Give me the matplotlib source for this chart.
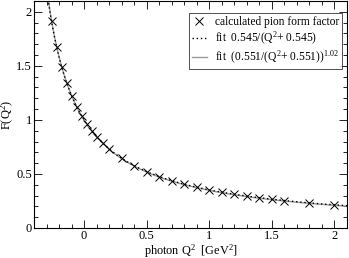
import matplotlib
matplotlib.use("Agg")
import matplotlib.pyplot as plt
import numpy as np
from matplotlib.ticker import MultipleLocator, FormatStrFormatter

plt.rcParams["font.family"] = ["Liberation Serif", "DejaVu Serif"]
plt.rcParams["mathtext.fontset"] = "custom"
plt.rcParams["mathtext.rm"] = "Liberation Serif"
plt.rcParams["mathtext.it"] = "Liberation Serif:italic"

# calculated pion form factor points
q2 = [-0.26, -0.22, -0.18, -0.14, -0.10, -0.06, -0.02, 0.02, 0.06, 0.10,
      0.15, 0.2, 0.3, 0.4, 0.5, 0.6, 0.7, 0.8, 0.9, 1.0, 1.1, 1.2, 1.3,
      1.4, 1.5, 1.6, 1.8, 2.0]
form_factor = [1.912, 1.677, 1.493, 1.346, 1.225, 1.124, 1.038, 0.965, 0.901,
               0.845, 0.784, 0.732, 0.645, 0.577, 0.522, 0.476, 0.438, 0.405,
               0.377, 0.353, 0.331, 0.312, 0.295, 0.280, 0.267, 0.254, 0.232,
               0.214]

# fit parameters from the legend
mono_m2 = 0.545
pow_m2 = 0.551
pow_n = 1.02

fig = plt.figure(figsize=(3.49, 2.58), dpi=100)
ax = fig.add_axes([34 / 349, 30 / 258, 313 / 349, 227 / 258])

x = np.linspace(-0.3, 2.1, 400)
ax.plot(x, (pow_m2 / (x + pow_m2)) ** pow_n, color="#999999", lw=1.0,
        label=r"fit  (0.551/(Q$^2$+ 0.551))$^{1.02}$", zorder=2)
ax.plot(x, mono_m2 / (x + mono_m2), color="black", lw=1.0, ls=(0, (1, 2)),
        label=r"fit  0.545/(Q$^2$+ 0.545)", zorder=3)
ax.plot(q2, form_factor, ls="none", marker="x", ms=5.5, mew=0.7, color="black",
        label="calculated pion form factor", zorder=4)

ax.set_xlim(-0.4, 2.1)
ax.set_ylim(0, 2.1)
for axis in (ax.xaxis, ax.yaxis):
    axis.set_major_locator(MultipleLocator(0.5))
    axis.set_minor_locator(MultipleLocator(0.1))
    axis.set_major_formatter(FormatStrFormatter("%g"))
ax.tick_params(which="both", direction="in", top=True, right=True,
               labelsize=9, width=0.6)
ax.tick_params(which="major", length=6, pad=1.5)
ax.tick_params(which="minor", length=3)
for s in ax.spines.values():
    s.set_linewidth(0.8)

ax.set_xlabel(r"photon Q$^2$  [GeV$^2$]", fontsize=8.8)
ax.set_ylabel(r"F(Q$^2$)", fontsize=9)
ax.xaxis.set_label_coords(0.5, -0.062)
ax.yaxis.set_label_coords(-0.056, 0.5)

h, l = ax.get_legend_handles_labels()
leg = ax.legend(h[::-1], l[::-1], loc="upper right", fontsize=8.3,
                frameon=True, fancybox=False, edgecolor="black",
                bbox_to_anchor=(0.985, 0.945), borderpad=0.25,
                labelspacing=0.15, handlelength=1.3, handletextpad=0.7,
                borderaxespad=0)
leg.get_frame().set_linewidth(0.6)

fig.savefig("out.png", dpi=100)
